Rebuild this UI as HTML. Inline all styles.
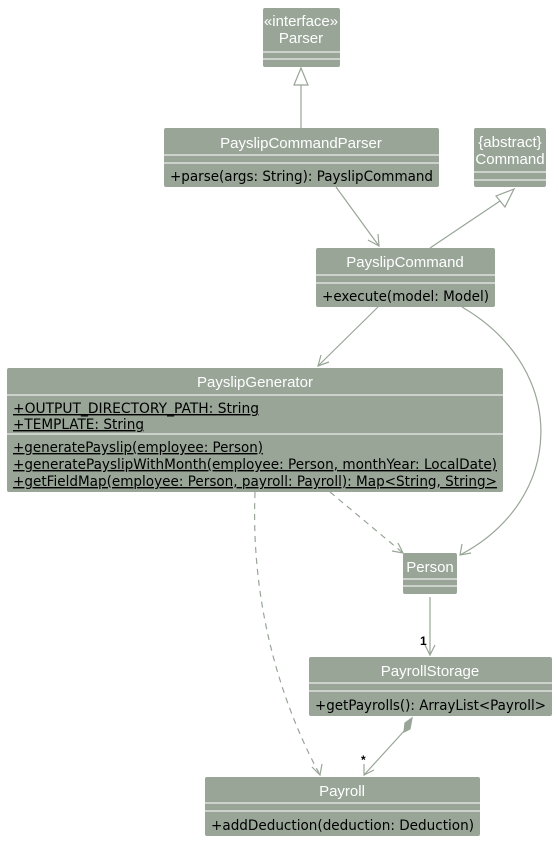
<!DOCTYPE html>
<html><head><style>
body{margin:0;background:#fff;}
svg text{font-family:"Liberation Sans",sans-serif;}
.t{fill:#fff;font-size:15px;text-anchor:middle;}
.m{fill:#000;font-size:14px;font-family:"DejaVu Sans","Liberation Sans",sans-serif !important;}
.u{text-decoration:underline;}
</style></head><body>
<svg width="558" height="842" viewBox="0 0 558 842" xmlns="http://www.w3.org/2000/svg">
<g fill="#98a597">
<rect x="263" y="8" width="77" height="59" rx="2"/>
<rect x="164" y="128" width="275" height="59" rx="2"/>
<rect x="474" y="128" width="72" height="59" rx="2"/>
<rect x="316" y="248" width="179" height="59" rx="2"/>
<rect x="7" y="368" width="496" height="124" rx="2"/>
<rect x="403" y="553" width="54" height="41" rx="2"/>
<rect x="309" y="657" width="243" height="59" rx="2"/>
<rect x="205" y="777" width="275" height="59" rx="2"/>
</g>
<g stroke="#fff" stroke-width="1">
<line x1="263" y1="52" x2="340" y2="52"/><line x1="263" y1="59" x2="340" y2="59"/>
<line x1="164" y1="155" x2="439" y2="155"/><line x1="164" y1="163" x2="439" y2="163"/>
<line x1="474" y1="172" x2="546" y2="172"/><line x1="474" y1="180" x2="546" y2="180"/>
<line x1="316" y1="275" x2="495" y2="275"/><line x1="316" y1="283" x2="495" y2="283"/>
<line x1="7" y1="395" x2="503" y2="395"/><line x1="7" y1="434" x2="503" y2="434"/>
<line x1="403" y1="579" x2="457" y2="579"/><line x1="403" y1="586" x2="457" y2="586"/>
<line x1="309" y1="683" x2="552" y2="683"/><line x1="309" y1="691" x2="552" y2="691"/>
<line x1="205" y1="803" x2="480" y2="803"/><line x1="205" y1="811" x2="480" y2="811"/>
</g>
<text class="t" x="301" y="26" font-size="14">«interface»</text>
<text class="t" x="301" y="43">Parser</text>
<text class="t" x="301" y="148">PayslipCommandParser</text>
<text class="m" x="170" y="181" textLength="263" lengthAdjust="spacingAndGlyphs">+parse(args: String): PayslipCommand</text>
<text class="t" x="510" y="147" font-size="14">{abstract}</text>
<text class="t" x="510" y="164">Command</text>
<text class="t" x="405" y="267">PayslipCommand</text>
<text class="m" x="322" y="301" textLength="167" lengthAdjust="spacingAndGlyphs">+execute(model: Model)</text>
<text class="t" x="255" y="387">PayslipGenerator</text>
<text class="m u" x="13" y="413" textLength="246" lengthAdjust="spacingAndGlyphs">+OUTPUT_DIRECTORY_PATH: String</text>
<text class="m u" x="13" y="429" textLength="131" lengthAdjust="spacingAndGlyphs">+TEMPLATE: String</text>
<text class="m u" x="13" y="452" textLength="250" lengthAdjust="spacingAndGlyphs">+generatePayslip(employee: Person)</text>
<text class="m u" x="13" y="469" textLength="484" lengthAdjust="spacingAndGlyphs">+generatePayslipWithMonth(employee: Person, monthYear: LocalDate)</text>
<text class="m u" x="13" y="486" textLength="484" lengthAdjust="spacingAndGlyphs">+getFieldMap(employee: Person, payroll: Payroll): Map&lt;String, String&gt;</text>
<text class="t" x="430" y="572">Person</text>
<text class="t" x="430" y="676">PayrollStorage</text>
<text class="m" x="315" y="710" textLength="231" lengthAdjust="spacingAndGlyphs">+getPayrolls(): ArrayList&lt;Payroll&gt;</text>
<text class="t" x="342" y="796">Payroll</text>
<text class="m" x="211" y="830" textLength="263" lengthAdjust="spacingAndGlyphs">+addDeduction(deduction: Deduction)</text>
<g stroke="#98a597" stroke-width="1.2" fill="none">
<line x1="301" y1="128" x2="301" y2="85"/>
<polygon points="301,68 294,85 308,85" fill="#fff"/>
<line x1="336" y1="187" x2="379" y2="246"/>
<polyline points="368,240 379,246 378,234"/>
<line x1="430" y1="248" x2="500" y2="201"/>
<polygon points="514,189 496,196 505,207" fill="#fff"/>
<line x1="378" y1="307" x2="318" y2="366"/>
<polyline points="321,355 318,366 329,362"/>
<path d="M462,307 C570,370 565,500 460,555"/>
<polyline points="462,544 460,555 471,553"/>
<path d="M330,492 L403,553" stroke-dasharray="6,5"/>
<polyline points="392,551 403,553 398,543"/>
<path d="M255,492 C250,620 290,720 320,775" stroke-dasharray="6,5"/>
<polyline points="312,767 320,775 322,764"/>
<line x1="430" y1="597" x2="430" y2="655"/>
<polyline points="425,645 430,655 435,645"/>
<line x1="405" y1="730" x2="364" y2="775"/>
<polygon points="412,718 410,729 404,732 405,723" fill="#98a597"/>
<polyline points="364,764 364,775 374,770"/>
</g>
<text x="420" y="645" font-size="12" font-weight="bold" fill="#000">1</text>
<text x="361" y="764" font-size="12" font-weight="bold" fill="#000">*</text>
</svg>
</body></html>
